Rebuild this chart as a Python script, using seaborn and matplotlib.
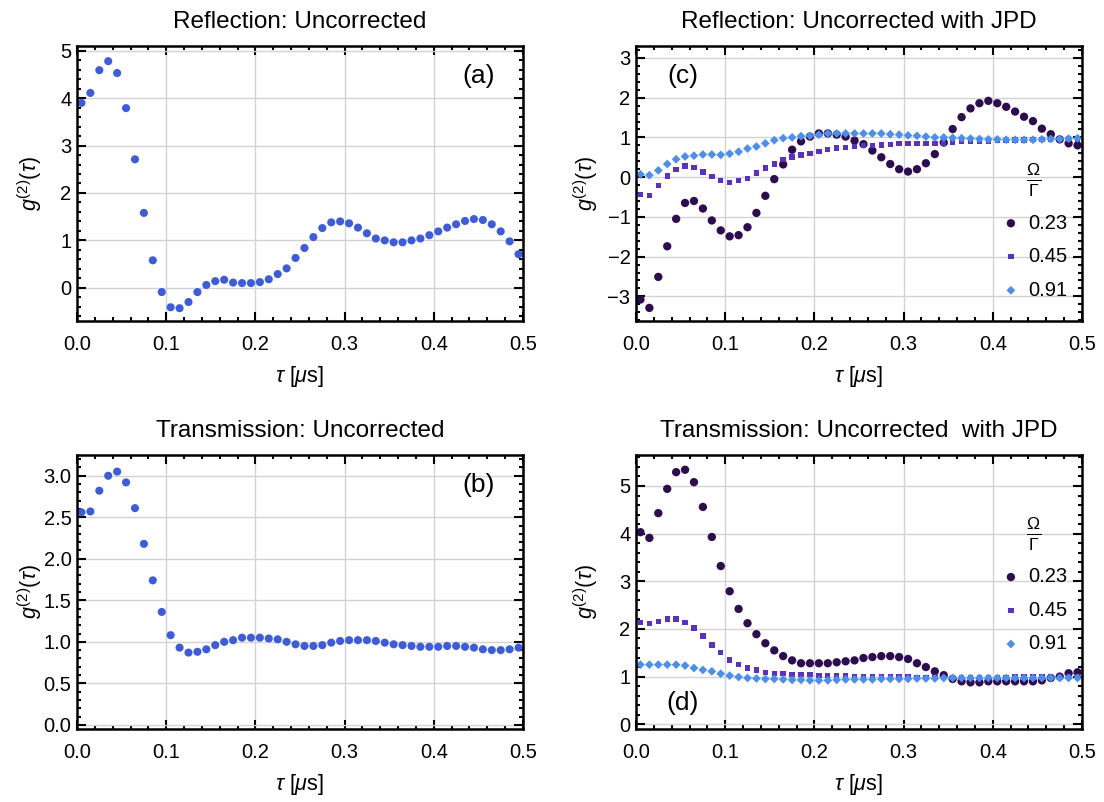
import numpy as np
import pandas as pd
import matplotlib
matplotlib.use("Agg")
import matplotlib.pyplot as plt
from matplotlib.ticker import MultipleLocator, FormatStrFormatter, FuncFormatter
import seaborn as sns

# Delay times (microseconds), common to all four panels
tau = [0.005, 0.015, 0.025, 0.035, 0.045, 0.055, 0.065, 0.075, 0.085, 0.095,
       0.105, 0.115, 0.125, 0.135, 0.145, 0.155, 0.165, 0.175, 0.185, 0.195,
       0.205, 0.215, 0.225, 0.235, 0.245, 0.255, 0.265, 0.275, 0.285, 0.295,
       0.305, 0.315, 0.325, 0.335, 0.345, 0.355, 0.365, 0.375, 0.385, 0.395,
       0.405, 0.415, 0.425, 0.435, 0.445, 0.455, 0.465, 0.475, 0.485, 0.495]

# (a) Reflection, uncorrected
refl_uncorr = [3.90, 4.11, 4.59, 4.78, 4.53, 3.79, 2.71, 1.58, 0.58, -0.09,
               -0.41, -0.43, -0.30, -0.09, 0.06, 0.14, 0.17, 0.11, 0.10, 0.10,
               0.12, 0.18, 0.29, 0.41, 0.63, 0.84, 1.07, 1.26, 1.38, 1.40,
               1.36, 1.27, 1.15, 1.04, 1.00, 0.96, 0.96, 1.00, 1.04, 1.11,
               1.19, 1.27, 1.34, 1.41, 1.45, 1.43, 1.34, 1.19, 0.98, 0.71]

# (b) Transmission, uncorrected
trans_uncorr = [2.56, 2.57, 2.82, 3.00, 3.05, 2.92, 2.61, 2.18, 1.74, 1.36,
                1.08, 0.93, 0.87, 0.88, 0.91, 0.96, 1.00, 1.02, 1.05, 1.05,
                1.05, 1.04, 1.03, 1.00, 0.97, 0.95, 0.95, 0.96, 0.99, 1.01,
                1.02, 1.02, 1.02, 1.01, 0.99, 0.97, 0.96, 0.95, 0.94, 0.94,
                0.94, 0.95, 0.95, 0.94, 0.93, 0.91, 0.90, 0.90, 0.91, 0.93]

# (c) Reflection with JPD, for three drive strengths Omega/Gamma
refl_023 = [-3.08, -3.29, -2.51, -1.74, -1.05, -0.65, -0.60, -0.79, -1.09, -1.34,
            -1.49, -1.46, -1.26, -0.90, -0.47, -0.05, 0.32, 0.69, 0.90, 1.02,
            1.10, 1.10, 1.07, 1.02, 0.92, 0.83, 0.67, 0.50, 0.33, 0.20,
            0.14, 0.20, 0.35, 0.58, 0.87, 1.21, 1.51, 1.73, 1.86, 1.92,
            1.86, 1.77, 1.65, 1.52, 1.41, 1.22, 1.08, 0.95, 0.85, 0.80]
refl_045 = [-0.44, -0.46, -0.21, 0.03, 0.20, 0.28, 0.24, 0.13, 0.02, -0.08,
            -0.13, -0.09, -0.03, 0.10, 0.23, 0.33, 0.44, 0.51, 0.56, 0.60,
            0.65, 0.69, 0.73, 0.75, 0.77, 0.79, 0.80, 0.81, 0.82, 0.84,
            0.85, 0.85, 0.85, 0.85, 0.86, 0.88, 0.89, 0.90, 0.90, 0.91,
            0.92, 0.92, 0.93, 0.93, 0.94, 0.94, 0.95, 0.95, 0.96, 0.96]
refl_091 = [0.07, 0.05, 0.17, 0.33, 0.45, 0.52, 0.54, 0.57, 0.57, 0.56,
            0.59, 0.64, 0.72, 0.77, 0.85, 0.93, 0.98, 1.00, 1.03, 1.04,
            1.07, 1.10, 1.10, 1.10, 1.10, 1.10, 1.10, 1.10, 1.08, 1.07,
            1.05, 1.04, 1.02, 1.00, 1.00, 0.99, 0.98, 0.97, 0.96, 0.95,
            0.95, 0.94, 0.94, 0.94, 0.94, 0.95, 0.96, 0.96, 0.97, 0.98]

# (d) Transmission with JPD
trans_023 = [4.03, 3.91, 4.43, 4.94, 5.29, 5.34, 5.08, 4.56, 3.93, 3.32,
             2.79, 2.42, 2.12, 1.89, 1.70, 1.55, 1.43, 1.34, 1.28, 1.28,
             1.28, 1.28, 1.30, 1.32, 1.34, 1.39, 1.41, 1.43, 1.43, 1.41,
             1.37, 1.28, 1.20, 1.11, 1.03, 0.95, 0.90, 0.88, 0.88, 0.90,
             0.90, 0.90, 0.90, 0.90, 0.90, 0.92, 0.97, 1.00, 1.07, 1.09]
trans_045 = [2.14, 2.11, 2.16, 2.21, 2.21, 2.14, 2.02, 1.85, 1.66, 1.50,
             1.35, 1.25, 1.18, 1.14, 1.09, 1.07, 1.06, 1.05, 1.04, 1.04,
             1.02, 1.02, 1.01, 1.01, 1.00, 0.99, 0.99, 0.99, 0.99, 0.99,
             0.99, 0.98, 0.98, 0.98, 0.98, 0.98, 0.98, 0.98, 0.98, 0.98,
             0.98, 0.98, 0.99, 0.99, 0.99, 0.99, 0.99, 1.00, 1.00, 1.00]
trans_091 = [1.25, 1.25, 1.25, 1.25, 1.25, 1.23, 1.18, 1.14, 1.11, 1.06,
             1.02, 0.99, 0.97, 0.96, 0.95, 0.95, 0.94, 0.93, 0.93, 0.92,
             0.92, 0.92, 0.93, 0.94, 0.94, 0.94, 0.94, 0.95, 0.95, 0.95,
             0.95, 0.96, 0.96, 0.96, 0.97, 0.97, 0.97, 0.97, 0.97, 0.97,
             0.97, 0.97, 0.97, 0.97, 0.97, 0.97, 0.97, 0.97, 0.97, 0.97]

drive_labels = ["0.23", "0.45", "0.91"]
titles = ["Reflection: Uncorrected", "Reflection: Uncorrected with JPD",
          "Transmission: Uncorrected", "Transmission: Uncorrected  with JPD"]
panel_tags = ["(a)", "(c)", "(b)", "(d)"]

single_color = "#3d5cdb"
drive_colors = ["#2d0c50", "#5a30c4", "#4b8fee"]
drive_markers = ["o", "s", "D"]
drive_sizes = [36, 15, 20]

sns.set_style("white")
plt.rcParams["font.family"] = ["Liberation Sans", "DejaVu Sans"]
plt.rcParams["mathtext.fontset"] = "custom"
plt.rcParams["mathtext.rm"] = "Liberation Sans"
plt.rcParams["mathtext.it"] = "Liberation Sans:italic"
plt.rcParams["mathtext.sf"] = "Liberation Sans"
plt.rcParams["text.color"] = "black"
plt.rcParams["axes.labelcolor"] = "black"
plt.rcParams["axes.titlecolor"] = "black"
plt.rcParams["legend.labelcolor"] = "black"

fig = plt.figure(figsize=(11.04, 8.02), dpi=100)
W, H = 1104, 802


def add_ax(left, top, right, bottom):
    return fig.add_axes([left / W, 1 - bottom / H, (right - left) / W, (bottom - top) / H])


ax_a = add_ax(77, 46, 523, 321)
ax_c = add_ax(636, 46, 1082, 321)
ax_b = add_ax(77, 455, 523, 729)
ax_d = add_ax(636, 455, 1082, 729)


def int_minus(v, pos):
    return f"{int(round(v))}".replace("-", "\u2212")


def style_axes(ax, ylim, ymajor, yminor, yfmt, title, tag, tag_pos, ylab_x):
    ax.set_xlim(0, 0.5)
    ax.set_ylim(*ylim)
    ax.xaxis.set_major_locator(MultipleLocator(0.1))
    ax.xaxis.set_minor_locator(MultipleLocator(0.02))
    ax.yaxis.set_major_locator(MultipleLocator(ymajor))
    ax.yaxis.set_minor_locator(MultipleLocator(yminor))
    ax.xaxis.set_major_formatter(FormatStrFormatter("%.1f"))
    ax.yaxis.set_major_formatter(yfmt)
    ax.grid(True, which="major", color="#d2d2d2", linewidth=1.0)
    ax.set_axisbelow(True)
    for sp in ax.spines.values():
        sp.set_linewidth(1.8)
        sp.set_color("black")
    ax.tick_params(which="both", direction="in", top=True, right=True,
                   bottom=True, left=True, width=1.5, labelsize=14.5,
                   colors="black")
    ax.tick_params(axis="x", which="both", pad=10)
    ax.tick_params(axis="y", which="both", pad=4)
    ax.tick_params(which="major", length=6.5)
    ax.tick_params(which="minor", length=3)
    ax.set_title(title, fontsize=17.5, pad=13, color="black")
    ax.set_xlabel(r"$\tau$ [$\mu$s]", fontsize=15.5, labelpad=7)
    ax.set_ylabel(r"$g^{(2)}(\tau)$", fontsize=15.5)
    ax.yaxis.set_label_coords(ylab_x, 0.5)
    ax.text(tag_pos[0], tag_pos[1], tag, transform=ax.transAxes,
            fontsize=19, ha="center", va="center", color="black")


# Single-series panels
for ax, y in [(ax_a, refl_uncorr), (ax_b, trans_uncorr)]:
    df = pd.DataFrame({"tau": tau, "g2": y})
    sns.scatterplot(data=df, x="tau", y="g2", ax=ax, color=single_color,
                    s=34, edgecolor="none", linewidth=0, legend=False, clip_on=False)

# Drive-strength panels
for ax, series in [(ax_c, [refl_023, refl_045, refl_091]),
                   (ax_d, [trans_023, trans_045, trans_091])]:
    for y, lab, c, m, s in zip(series, drive_labels, drive_colors, drive_markers, drive_sizes):
        df = pd.DataFrame({"tau": tau, "g2": y})
        sns.scatterplot(data=df, x="tau", y="g2", ax=ax, color=c, marker=m,
                        s=s, edgecolor="none", linewidth=0, label=lab, clip_on=False)

style_axes(ax_a, (-0.7, 5.1), 1, 0.2, FuncFormatter(int_minus), titles[0],
           panel_tags[0], (0.90, 0.89), -0.074)
style_axes(ax_c, (-3.62, 3.3), 1, 0.2, FuncFormatter(int_minus), titles[1],
           panel_tags[1], (0.105, 0.89), -0.081)
style_axes(ax_b, (-0.05, 3.25), 0.5, 0.1, FormatStrFormatter("%.1f"), titles[2],
           panel_tags[2], (0.90, 0.89), -0.074)
style_axes(ax_d, (-0.1, 5.65), 1, 0.2, FuncFormatter(int_minus), titles[3],
           panel_tags[3], (0.105, 0.095), -0.081)

for ax, anchor in [(ax_c, (0.818, 0.578)), (ax_d, (0.818, 0.778))]:
    ax.legend(title=r"$\frac{\Omega}{\Gamma}$", loc="upper left",
              bbox_to_anchor=anchor, frameon=False, fontsize=14.5,
              title_fontsize=18, handletextpad=0.35, labelspacing=0.72,
              handlelength=1.0, markerscale=1.0, borderaxespad=0,
              borderpad=0)

fig.savefig("out.png", dpi=100)
